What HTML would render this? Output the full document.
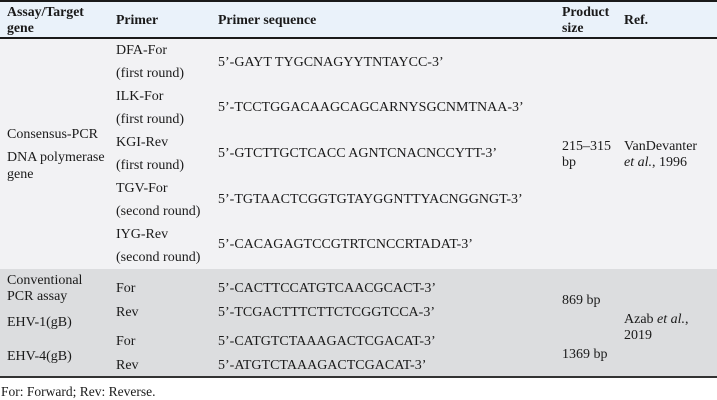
<!DOCTYPE html>
<html><head><meta charset="utf-8"><style>
body{margin:0;width:717px;height:400px;background:#fff;position:relative;font-family:"Liberation Serif",serif;font-size:14px;color:#1a1a1a;overflow:hidden}
.r{position:absolute;left:0;width:717px}
.t{position:absolute;white-space:nowrap;line-height:16px;transform:translateY(-8px)}
.b{font-weight:bold;font-size:13.8px}
</style></head><body>
<div class="r" style="top:0;height:2px;background:#1a1a1a"></div>
<div class="r" style="top:2px;height:35px;background:#eaf2fa"></div>
<div class="r" style="top:37px;height:2px;background:#1a1a1a"></div>
<div class="r" style="top:39px;height:230px;background:#f2f2f4"></div>
<div class="r" style="top:269px;height:107px;background:#dcdddf"></div>
<div class="r" style="top:376px;height:2px;background:#333"></div>

<div class="t b" style="left:7px;top:12px">Assay/Target</div>
<div class="t b" style="left:7px;top:28px">gene</div>
<div class="t b" style="left:116px;top:20px">Primer</div>
<div class="t b" style="left:218px;top:20px">Primer sequence</div>
<div class="t b" style="left:562px;top:12px">Product</div>
<div class="t b" style="left:562px;top:28px">size</div>
<div class="t b" style="left:624px;top:20px">Ref.</div>

<div class="t" style="left:116px;top:51px">DFA-For</div>
<div class="t" style="left:116px;top:74px">(first round)</div>
<div class="t" style="left:116px;top:97px">ILK-For</div>
<div class="t" style="left:116px;top:120px">(first round)</div>
<div class="t" style="left:116px;top:143px">KGI-Rev</div>
<div class="t" style="left:116px;top:166px">(first round)</div>
<div class="t" style="left:116px;top:189px">TGV-For</div>
<div class="t" style="left:116px;top:212px">(second round)</div>
<div class="t" style="left:116px;top:235px">IYG-Rev</div>
<div class="t" style="left:116px;top:258px">(second round)</div>

<div class="t" style="left:218px;top:63px">5’-GAYT TYGCNAGYYTNTAYCC-3’</div>
<div class="t" style="left:218px;top:108px">5’-TCCTGGACAAGCAGCARNYSGCNMTNAA-3’</div>
<div class="t" style="left:218px;top:154px">5’-GTCTTGCTCACC AGNTCNACNCCYTT-3’</div>
<div class="t" style="left:218px;top:200px">5’-TGTAACTCGGTGTAYGGNTTYACNGGNGT-3’</div>
<div class="t" style="left:218px;top:245px">5’-CACAGAGTCCGTRTCNCCRTADAT-3’</div>

<div class="t" style="left:7px;top:135px">Consensus-PCR</div>
<div class="t" style="left:7px;top:158px">DNA polymerase</div>
<div class="t" style="left:7px;top:175px">gene</div>
<div class="t" style="left:562px;top:147px">215–315</div>
<div class="t" style="left:562px;top:163px">bp</div>
<div class="t" style="left:624px;top:147px">VanDevanter</div>
<div class="t" style="left:624px;top:163px"><i>et al.</i>, 1996</div>

<div class="t" style="left:7px;top:281px">Conventional</div>
<div class="t" style="left:7px;top:297px">PCR assay</div>
<div class="t" style="left:7px;top:323px">EHV-1(gB)</div>
<div class="t" style="left:7px;top:357px">EHV-4(gB)</div>
<div class="t" style="left:116px;top:289px">For</div>
<div class="t" style="left:116px;top:313px">Rev</div>
<div class="t" style="left:116px;top:342px">For</div>
<div class="t" style="left:116px;top:366px">Rev</div>
<div class="t" style="left:218px;top:289px">5’-CACTTCCATGTCAACGCACT-3’</div>
<div class="t" style="left:218px;top:313px">5’-TCGACTTTCTTCTCGGTCCA-3’</div>
<div class="t" style="left:218px;top:342px">5’-CATGTCTAAAGACTCGACAT-3’</div>
<div class="t" style="left:218px;top:366px">5’-ATGTCTAAAGACTCGACAT-3’</div>
<div class="t" style="left:562px;top:301px">869 bp</div>
<div class="t" style="left:562px;top:355px">1369 bp</div>
<div class="t" style="left:624px;top:320px">Azab <i>et al.</i>,</div>
<div class="t" style="left:624px;top:336px">2019</div>

<div class="t" style="left:1px;top:392px;font-size:13.5px">For: Forward; Rev: Reverse.</div>
</body></html>
